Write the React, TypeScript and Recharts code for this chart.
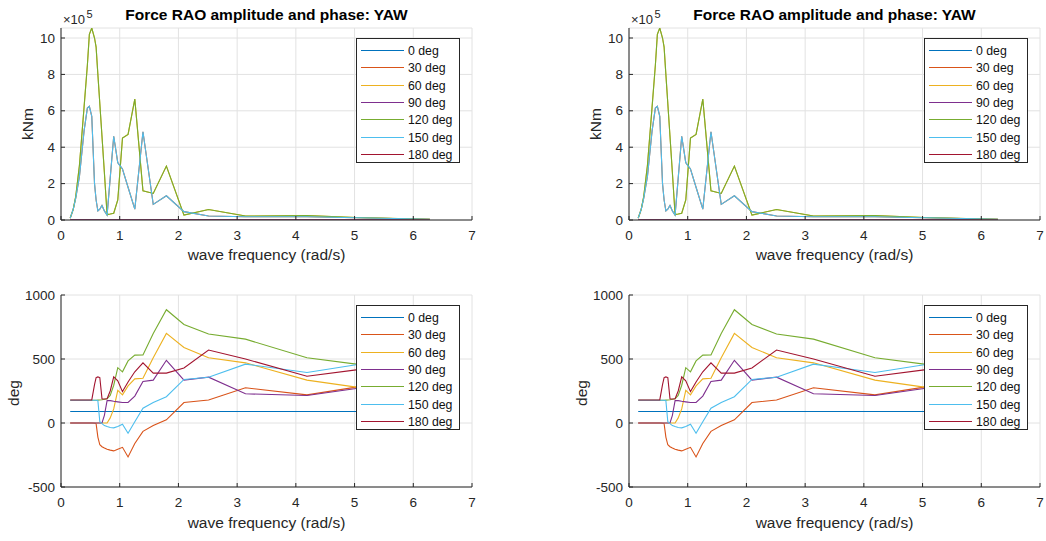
import React from 'react';
import { LineChart, Line, XAxis, YAxis, CartesianGrid, Legend } from 'recharts';

// wave frequency (rad/s)
const freq = [
  0.157, 0.209, 0.251, 0.314, 0.393, 0.449, 0.483, 0.524, 0.571, 0.598,
  0.628, 0.661, 0.698, 0.739, 0.785, 0.838, 0.898, 0.967, 1.047, 1.142,
  1.257, 1.396, 1.571, 1.795, 2.094, 2.513, 3.142, 4.189, 5.027, 6.283,
];

// amplitude, in units of 1e5 kNm
const amp0 = [0, 0, 0, 0, 0, 0, 0, 0, 0, 0, 0, 0, 0, 0, 0, 0, 0, 0, 0, 0, 0, 0, 0, 0, 0, 0, 0, 0, 0, 0];
const amp30 = [
  0.1, 0.6, 1.2, 2.4, 4.9, 6.15, 6.25, 5.7, 2.0, 1.1,
  0.5, 0.6, 0.8, 0.5, 0.27, 2.3, 4.6, 3.15, 2.8, 1.8,
  0.6, 4.85, 0.86, 1.33, 0.46, 0.22, 0.18, 0.18, 0.12, 0.04,
];
const amp60 = [
  0.1, 0.6, 1.3, 3.0, 6.2, 8.5, 10.2, 10.55, 10.0, 9.5,
  8.0, 6.4, 4.6, 2.6, 0.3, 0.33, 0.37, 1.1, 4.5, 4.7,
  6.64, 1.6, 1.46, 2.96, 0.27, 0.58, 0.22, 0.24, 0.14, 0.04,
];
const amp90 = [0, 0, 0, 0, 0, 0, 0, 0, 0, 0, 0, 0, 0, 0, 0, 0, 0, 0, 0, 0, 0, 0, 0, 0, 0, 0, 0, 0, 0, 0];
const amp120 = [
  0.1, 0.6, 1.3, 3.0, 6.2, 8.5, 10.2, 10.55, 10.0, 9.5,
  8.0, 6.4, 4.6, 2.6, 0.3, 0.33, 0.37, 1.1, 4.5, 4.7,
  6.64, 1.6, 1.46, 2.96, 0.27, 0.58, 0.22, 0.24, 0.14, 0.04,
];
const amp150 = [
  0.1, 0.6, 1.2, 2.4, 4.9, 6.15, 6.25, 5.7, 2.0, 1.1,
  0.5, 0.6, 0.8, 0.5, 0.27, 2.3, 4.6, 3.15, 2.8, 1.8,
  0.6, 4.85, 0.86, 1.33, 0.46, 0.22, 0.18, 0.18, 0.12, 0.04,
];
const amp180 = [0, 0, 0, 0, 0, 0, 0, 0, 0, 0, 0, 0, 0, 0, 0, 0, 0, 0, 0, 0, 0, 0, 0, 0, 0, 0, 0, 0, 0, 0];

// phase (deg)
const ph0 = [90, 90, 90, 90, 90, 90, 90, 90, 90, 90, 90, 90, 90, 90, 90, 90, 90, 90, 90, 90, 90, 90, 90, 90, 90, 90, 90, 90, 90, 90];
const ph30 = [
  0, 0, 0, 0, 0, 0, 0, 0, -2, -5,
  -110, -170, -185, -195, -205, -212, -218, -205, -190, -265,
  -160, -65, -20, 25, 160, 180, 275, 220, 280, 300,
];
const ph60 = [
  0, 0, 0, 0, 0, 0, 0, 0, 0, 0,
  0, 0, 0, 0, 0, 40, 110, 255, 220, 290,
  345, 350, 510, 700, 590, 510, 470, 335, 280, 250,
];
const ph90 = [
  0, 0, 0, 0, 0, 0, 0, 0, 0, 0,
  0, 0, 0, 60, 175, 175, 170, 165, 160, 160,
  210, 325, 335, 490, 335, 358, 228, 215, 270, 300,
];
const ph120 = [
  178, 178, 178, 178, 178, 178, 178, 178, 178, 178,
  179, 180, 182, 185, 190, 215, 295, 432, 400, 485,
  530, 532, 700, 885, 770, 695, 655, 510, 460, 420,
];
const ph150 = [
  178, 178, 178, 178, 178, 178, 178, 178, 178, 178,
  175, 10, -5, -20, -28, -35, -38, -28, -10, -80,
  10, 115, 160, 205, 340, 358, 460, 395, 455, 470,
];
const ph180 = [
  180, 180, 180, 180, 180, 180, 180, 180, 300, 355,
  360, 355, 190, 188, 190, 250, 360, 330, 245, 320,
  400, 470, 390, 390, 430, 570, 500, 365, 415, 430,
];

const headings = ['0 deg', '30 deg', '60 deg', '90 deg', '120 deg', '150 deg', '180 deg'];
const COLORS = ['#0072BD', '#D95319', '#EDB120', '#7E2F8E', '#77AC30', '#4DBEEE', '#A2142F'];

const xTicks = [0, 1, 2, 3, 4, 5, 6, 7];
const ampTicks = [0, 2, 4, 6, 8, 10];
const phaseTicks = [-500, 0, 500, 1000];

const ampSeries = [amp0, amp30, amp60, amp90, amp120, amp150, amp180];
const phaseSeries = [ph0, ph30, ph60, ph90, ph120, ph150, ph180];

const toRows = (series: number[][]) =>
  freq.map((f, i) => {
    const row: Record<string, number> = { f };
    series.forEach((s, k) => (row['s' + k] = s[i]));
    return row;
  });

const ampData = toRows(ampSeries);
const phaseData = toRows(phaseSeries);

const INK = '#262626';
const GRID = '#e2e2e2';
const FONT = '"Liberation Sans", Arial, Helvetica, sans-serif';

const BottomTick = (props: any) => {
  const { x, y, payload } = props;
  return (
    <g>
      <line x1={x} x2={x} y1={y} y2={y - 4} stroke={INK} />
      <text x={x} y={y + 15} textAnchor="middle" dominantBaseline="central" fontSize={13.5} fill={INK} fontFamily={FONT}>
        {payload.value}
      </text>
    </g>
  );
};
const TopTick = (props: any) => <line x1={props.x} x2={props.x} y1={props.y} y2={props.y + 4} stroke={INK} />;
const LeftTick = (props: any) => {
  const { x, y, payload } = props;
  return (
    <g>
      <line x1={x} x2={x + 4} y1={y} y2={y} stroke={INK} />
      <text x={x - 6} y={y} textAnchor="end" dominantBaseline="central" fontSize={13.5} fill={INK} fontFamily={FONT}>
        {payload.value}
      </text>
    </g>
  );
};
const RightTick = (props: any) => <line x1={props.x} x2={props.x - 4} y1={props.y} y2={props.y} stroke={INK} />;

// legend drawn as a small svg so the sample strokes stay crisp
const LegendBox = () => (
  <svg width={104} height={125} style={{ display: 'block' }}>
    <rect x={0.5} y={0.5} width={103} height={124} fill="#fff" stroke={INK} />
    {headings.map((h, i) => {
      const cy = Math.round(12 + i * 17.3) + 0.5;
      return (
        <g key={h}>
          <line x1={5} x2={48} y1={cy} y2={cy} stroke={COLORS[i]} strokeWidth={1.2} />
          <text x={52} y={cy} dominantBaseline="central" fontSize={12.3} fill="#111" fontFamily={FONT}>
            {h}
          </text>
        </g>
      );
    })}
  </svg>
);

interface PanelProps {
  data: Record<string, number>[];
  domain: [number, number];
  ticks: number[];
  left: number;
  top: number;
}

const Panel: React.FC<PanelProps> = ({ data, domain, ticks, left, top }) => (
  <div style={{ position: 'absolute', left, top }}>
    <LineChart width={520} height={270} data={data} margin={{ top: 28, right: 48, bottom: 20, left: 0 }}>
      <CartesianGrid stroke={GRID} strokeWidth={1} />
      <XAxis
        dataKey="f"
        type="number"
        domain={[0, 7]}
        ticks={xTicks}
        height={30}
        axisLine={{ stroke: INK }}
        tickLine={false}
        tickSize={0}
        tickMargin={0}
        tick={<BottomTick />}
        allowDataOverflow
      />
      <XAxis
        xAxisId="top"
        orientation="top"
        type="number"
        domain={[0, 7]}
        ticks={xTicks}
        height={0}
        axisLine={{ stroke: INK }}
        tickLine={false}
        tickSize={0}
        tickMargin={0}
        tick={<TopTick />}
        allowDataOverflow
      />
      <YAxis
        type="number"
        domain={domain}
        ticks={ticks}
        width={61}
        axisLine={{ stroke: INK }}
        tickLine={false}
        tickSize={0}
        tickMargin={0}
        tick={<LeftTick />}
        allowDataOverflow
      />
      <YAxis
        yAxisId="r"
        orientation="right"
        type="number"
        domain={domain}
        ticks={ticks}
        width={0}
        axisLine={{ stroke: INK }}
        tickLine={false}
        tickSize={0}
        tickMargin={0}
        tick={<RightTick />}
        allowDataOverflow
      />
      {headings.map((h, k) => (
        <Line
          key={h}
          name={h}
          dataKey={'s' + k}
          type="linear"
          stroke={COLORS[k]}
          strokeWidth={1.1}
          dot={false}
          activeDot={false}
          isAnimationActive={false}
        />
      ))}
      <Legend
        layout="vertical"
        align="center"
        verticalAlign="middle"
        content={<LegendBox />}
        wrapperStyle={{ left: 356, top: 38, width: 104, height: 125 }}
      />
    </LineChart>
  </div>
);

// titles, axis labels and the exponent, for one column of panels
const Labels: React.FC<{ dx: number }> = ({ dx }) => (
  <g fontFamily={FONT} fill={INK}>
    <text x={dx + 266.5} y={19.5} textAnchor="middle" fontSize={15.5} fontWeight="bold" fill="#000">
      Force RAO amplitude and phase: YAW
    </text>
    <text x={dx + 63} y={24} fontSize={13}>×10</text>
    <text x={dx + 86.5} y={18.3} fontSize={11}>5</text>
    <text x={dx + 27.5} y={124} textAnchor="middle" dominantBaseline="central" fontSize={15.5} transform={`rotate(-90 ${dx + 27.5} 124)`}>
      kNm
    </text>
    <text x={dx + 266.5} y={260} textAnchor="middle" fontSize={15.5}>
      wave frequency (rad/s)
    </text>
    <text x={dx + 13.5} y={393} textAnchor="middle" dominantBaseline="central" fontSize={15.5} transform={`rotate(-90 ${dx + 13.5} 393)`}>
      deg
    </text>
    <text x={dx + 266.5} y={527.5} textAnchor="middle" fontSize={15.5}>
      wave frequency (rad/s)
    </text>
  </g>
);

export default function App() {
  return (
    <div style={{ position: 'absolute', left: 0, top: 0, width: 1046, height: 541, background: '#fff', overflow: 'hidden' }}>
      <Panel data={ampData} domain={[0, 10.55]} ticks={ampTicks} left={0} top={0} />
      <Panel data={phaseData} domain={[-500, 1000]} ticks={phaseTicks} left={0} top={267} />
      <Panel data={ampData} domain={[0, 10.55]} ticks={ampTicks} left={568} top={0} />
      <Panel data={phaseData} domain={[-500, 1000]} ticks={phaseTicks} left={568} top={267} />
      <svg width={1046} height={541} style={{ position: 'absolute', left: 0, top: 0, pointerEvents: 'none' }}>
        <Labels dx={0} />
        <Labels dx={568} />
      </svg>
    </div>
  );
}
